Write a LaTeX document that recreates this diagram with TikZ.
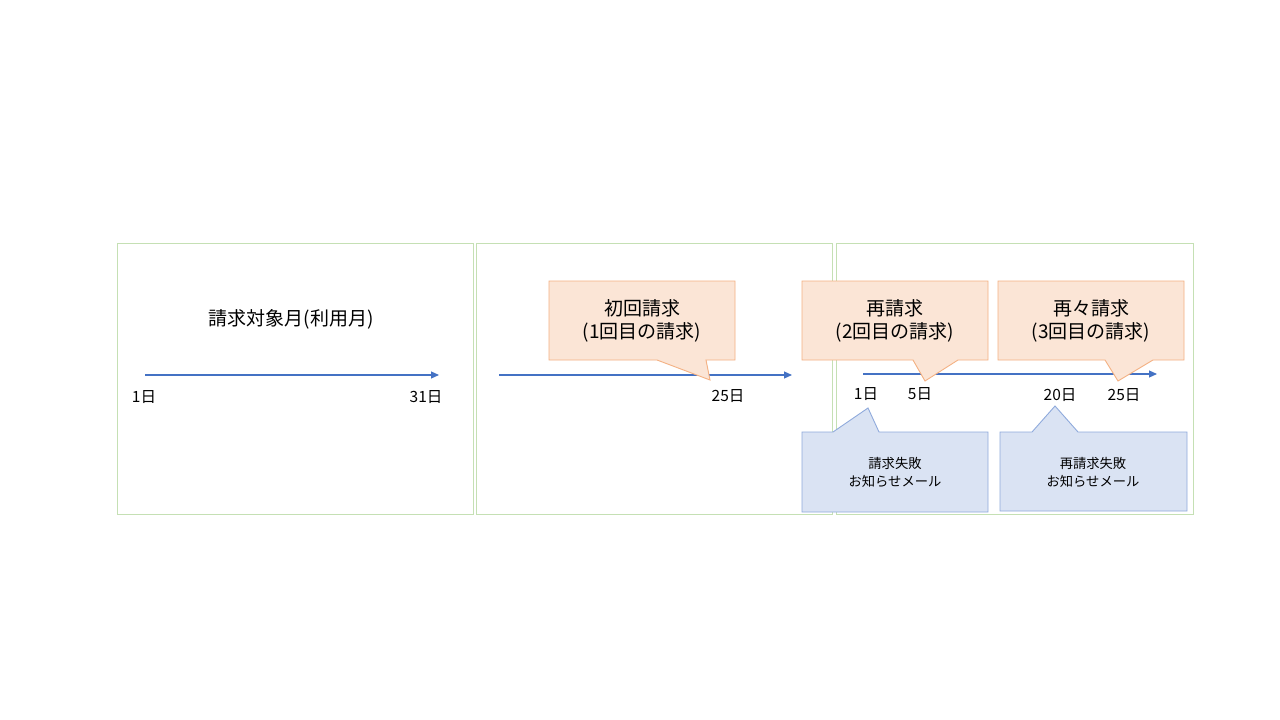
\documentclass[tikz,border=0pt]{standalone}
\usepackage{fontspec}
\setmainfont{Noto Sans CJK JP}
\usetikzlibrary{arrows.meta}
\definecolor{panelgreen}{HTML}{C5E0B4}
\definecolor{arrowblue}{HTML}{4472C4}
\definecolor{orfill}{HTML}{FBE5D6}
\definecolor{ordraw}{HTML}{F4B183}
\definecolor{blfill}{HTML}{DAE3F3}
\definecolor{bldraw}{HTML}{8FAADC}
\begin{document}
\begin{tikzpicture}[x=1pt,y=-1pt,
  panel/.style={draw=panelgreen,line width=0.9pt},
  timeline/.style={draw=arrowblue,line width=1.1pt,-{Triangle[length=8pt,width=7pt]}},
  daylbl/.style={font=\fontsize{15.5}{18}\selectfont,inner sep=0pt},
  orcall/.style={fill=orfill,draw=ordraw,line width=0.9pt},
  blcall/.style={fill=blfill,draw=bldraw,line width=0.9pt},
  bigtxt/.style={align=center,font=\fontsize{19}{23.5}\selectfont,inner sep=0pt},
  smalltxt/.style={align=center,font=\fontsize{13.3}{18}\selectfont,inner sep=0pt}]
\useasboundingbox (0,0) rectangle (1280,720);
\fill[white] (0,0) rectangle (1280,720);
% panels
\draw[panel] (117,243) rectangle (473,514);
\draw[panel] (476,243) rectangle (832,514);
\draw[panel] (836,243) rectangle (1193,514);
% panel 1
\node[bigtxt] (title) at (291,319) {請求対象月(利用月)};
\coordinate (a1s) at (145,375);
\coordinate (a1e) at (439,375);
\draw[timeline] (a1s) -- (a1e);
\node[daylbl] (d1) at (144,397) {1日};
\node[daylbl] (d31) at (426,397) {31日};
% panel 2
\coordinate (a2s) at (499,375);
\coordinate (a2e) at (792,375);
\draw[timeline] (a2s) -- (a2e);
\node[daylbl] (d25a) at (728,396) {25日};
% panel 3
\coordinate (a3s) at (863,374);
\coordinate (a3e) at (1157,374);
\draw[timeline] (a3s) -- (a3e);
\node[daylbl] (p1) at (866,394) {1日};
\node[daylbl] (p5) at (920,394) {5日};
\node[daylbl] (p20) at (1060,395) {20日};
\node[daylbl] (p25) at (1124,395) {25日};
% orange callouts
\draw[orcall] (549,281) -- (735,281) -- (735,360) -- (706,360) -- (710,380) -- (657,360) -- (549,360) -- cycle;
\node[bigtxt] (c1) at (642,321) {初回請求\\(1回目の請求)};
\draw[orcall] (802,281) -- (988,281) -- (988,360) -- (958,360) -- (925,381) -- (913,360) -- (802,360) -- cycle;
\node[bigtxt] (c2) at (895,321) {再請求\\(2回目の請求)};
\draw[orcall] (998,281) -- (1184,281) -- (1184,360) -- (1153,360) -- (1118,381) -- (1105,360) -- (998,360) -- cycle;
\node[bigtxt] (c3) at (1091,321) {再々請求\\(3回目の請求)};
% blue callouts
\draw[blcall] (802,432) -- (833,432) -- (868,408) -- (879,432) -- (988,432) -- (988,512) -- (802,512) -- cycle;
\node[smalltxt] (b1) at (895,472) {請求失敗\\お知らせメール};
\draw[blcall] (1000,432) -- (1032,432) -- (1055,406) -- (1078,432) -- (1187,432) -- (1187,511) -- (1000,511) -- cycle;
\node[smalltxt] (b2) at (1093,472) {再請求失敗\\お知らせメール};
\end{tikzpicture}
\end{document}
